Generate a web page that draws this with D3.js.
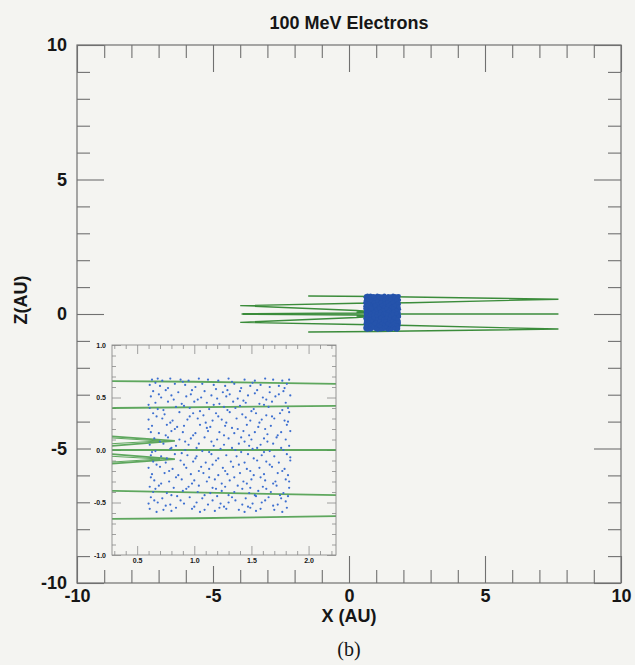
<!DOCTYPE html>
<html>
<head>
<meta charset="utf-8">
<script src="https://cdn.jsdelivr.net/npm/d3@7/dist/d3.min.js"></script>
<style>
  html, body { margin: 0; padding: 0; background: #f4f4f1; }
  svg { display: block; }
  text { font-family: 'Liberation Sans', Arial, Helvetica, sans-serif; fill: #161616; }
</style>
</head>
<body>
<svg id="chart" width="635" height="665"></svg>
<script>
const title = '100 MeV Electrons';
const xLabel = 'X (AU)';
const zLabel = 'Z(AU)';
const caption = '(b)';

const mainMajorTicks = [-10, -5, 0, 5, 10];
const mainMinorTicks = [-9, -8, -7, -6, -4, -3, -2, -1, 1, 2, 3, 4, 6, 7, 8, 9];
const insetXLabels = [0.5, 1.0, 1.5, 2.0];
const insetZLabels = [-1.0, -0.5, 0.0, 0.5, 1.0];

// field-line tracks, [x, z] in AU
const trackUpper = [
  [-1.5, 0.67], [1.0, 0.65], [2.24, 0.63], [7.7, 0.55], [2.24, 0.42], [0.3, 0.40],
  [-4.0, 0.31], [0.28, 0.13], [0.83, 0.086], [0.28, 0.04], [-3.9, 0.01]
];
const trackLower = [
  [-1.5, -0.67], [1.0, -0.65], [2.24, -0.63], [7.7, -0.56], [2.24, -0.43], [0.3, -0.39],
  [-4.0, -0.31], [0.28, -0.13], [0.83, -0.086], [0.28, -0.04], [-3.9, -0.01]
];
const trackMid = [[-3.95, 0.0], [7.7, 0.0]];
const loopUpper = [[0.28, 0.115], [0.70, 0.086], [0.28, 0.06]];
const loopLower = [[0.28, -0.115], [0.70, -0.086], [0.28, -0.06]];

// electron positions [x, z]
const electrons = [
  [0.63,0.67],[0.68,0.68],[0.72,0.66],[0.79,0.68],[0.88,0.67],[0.95,0.66],[1.04,0.68],[1.12,0.67],[1.21,0.66],[1.30,0.68],[1.44,0.67],[1.53,0.66],[1.62,0.68],[1.69,0.67],[1.77,0.66],[1.83,0.67],
  [0.61,0.62],[0.70,0.61],[0.83,0.63],[0.92,0.62],[1.01,0.60],[1.17,0.62],[1.27,0.61],[1.35,0.63],[1.49,0.61],[1.58,0.62],[1.74,0.61],[1.81,0.63],
  [0.64,0.56],[0.75,0.57],[0.86,0.55],[0.98,0.57],[1.09,0.56],[1.25,0.55],[1.29,0.57],[1.40,0.56],[1.55,0.57],[1.66,0.55],[1.78,0.56],
  [0.62,0.51],[0.71,0.50],[0.80,0.52],[0.93,0.51],[1.06,0.50],[1.15,0.52],[1.28,0.51],[1.38,0.49],[1.47,0.52],[1.60,0.50],[1.71,0.51],[1.84,0.52],
  [0.66,0.45],[0.77,0.46],[0.89,0.44],[1.00,0.46],[1.11,0.45],[1.22,0.44],[1.34,0.46],[1.45,0.45],[1.57,0.44],[1.68,0.46],[1.80,0.45],
  [0.61,0.40],[0.68,0.39],[0.84,0.41],[0.96,0.40],[1.13,0.39],[1.26,0.41],[1.36,0.40],[1.52,0.39],[1.65,0.41],[1.82,0.40],
  [0.64,0.35],[0.74,0.34],[0.87,0.36],[0.99,0.35],[1.08,0.33],[1.19,0.35],[1.31,0.36],[1.42,0.34],[1.54,0.35],[1.63,0.33],[1.75,0.35],[1.83,0.36],
  [0.60,0.29],[0.72,0.30],[0.81,0.28],[0.94,0.29],[1.03,0.30],[1.16,0.28],[1.24,0.29],[1.37,0.30],[1.49,0.28],[1.59,0.29],[1.70,0.30],[1.79,0.28],
  [0.63,0.23],[0.76,0.24],[0.85,0.22],[0.91,0.23],[1.05,0.24],[1.14,0.22],[1.27,0.23],[1.33,0.21],[1.46,0.24],[1.56,0.22],[1.67,0.23],[1.81,0.24],
  [0.62,0.17],[0.69,0.16],[0.80,0.18],[0.90,0.17],[1.01,0.16],[1.12,0.18],[1.22,0.17],[1.35,0.16],[1.43,0.18],[1.53,0.17],[1.64,0.15],[1.76,0.17],[1.84,0.18],
  [0.65,0.11],[0.77,0.12],[0.87,0.10],[0.97,0.11],[1.09,0.12],[1.20,0.10],[1.30,0.11],[1.41,0.12],[1.50,0.10],[1.61,0.11],[1.72,0.12],[1.80,0.10],
  [0.61,0.05],[0.73,0.06],[0.84,0.04],[0.95,0.05],[1.04,0.06],[1.17,0.04],[1.26,0.05],[1.39,0.06],[1.48,0.04],[1.58,0.05],[1.69,0.06],[1.83,0.04],
  [0.66,-0.01],[0.79,0.01],[0.92,0.00],[1.07,-0.01],[1.23,0.01],[1.36,0.00],[1.51,0.01],[1.66,-0.01],[1.78,0.00],
  [0.62,-0.05],[0.71,-0.06],[0.83,-0.04],[0.94,-0.05],[1.02,-0.06],[1.15,-0.04],[1.28,-0.05],[1.37,-0.06],[1.47,-0.04],[1.59,-0.05],[1.70,-0.06],[1.81,-0.04],
  [0.64,-0.11],[0.75,-0.12],[0.88,-0.10],[0.99,-0.11],[1.10,-0.12],[1.19,-0.10],[1.32,-0.11],[1.44,-0.12],[1.55,-0.10],[1.63,-0.11],[1.74,-0.12],[1.84,-0.10],
  [0.60,-0.17],[0.70,-0.16],[0.81,-0.18],[0.93,-0.17],[1.06,-0.16],[1.13,-0.18],[1.25,-0.17],[1.34,-0.16],[1.46,-0.18],[1.57,-0.17],[1.68,-0.16],[1.79,-0.18],
  [0.63,-0.23],[0.74,-0.22],[0.86,-0.24],[0.97,-0.23],[1.08,-0.22],[1.21,-0.24],[1.29,-0.23],[1.40,-0.22],[1.52,-0.24],[1.61,-0.23],[1.73,-0.22],[1.82,-0.24],
  [0.65,-0.29],[0.78,-0.30],[0.89,-0.28],[1.00,-0.29],[1.11,-0.30],[1.18,-0.28],[1.31,-0.29],[1.43,-0.30],[1.50,-0.28],[1.62,-0.29],[1.71,-0.30],[1.80,-0.28],
  [0.61,-0.35],[0.69,-0.34],[0.82,-0.36],[0.95,-0.35],[1.04,-0.34],[1.16,-0.36],[1.27,-0.35],[1.38,-0.34],[1.49,-0.36],[1.60,-0.35],[1.72,-0.34],[1.83,-0.36],
  [0.64,-0.40],[0.76,-0.41],[0.90,-0.39],[1.03,-0.40],[1.14,-0.41],[1.24,-0.39],[1.35,-0.40],[1.48,-0.41],[1.56,-0.39],[1.67,-0.40],[1.78,-0.41],
  [0.62,-0.45],[0.72,-0.46],[0.85,-0.44],[0.96,-0.45],[1.07,-0.46],[1.20,-0.44],[1.33,-0.45],[1.45,-0.46],[1.54,-0.44],[1.65,-0.45],[1.76,-0.46],[1.82,-0.44],
  [0.60,-0.51],[0.68,-0.50],[0.79,-0.52],[0.91,-0.51],[1.02,-0.50],[1.12,-0.52],[1.23,-0.51],[1.30,-0.50],[1.42,-0.52],[1.51,-0.51],[1.59,-0.50],[1.73,-0.52],
  [0.61,-0.56],[0.73,-0.57],[0.84,-0.55],[0.98,-0.56],[1.09,-0.57],[1.22,-0.55],[1.28,-0.56],[1.39,-0.57],[1.49,-0.55],[1.58,-0.56],[1.70,-0.57],[1.81,-0.55],
  [0.66,0.64],[0.77,0.59],[0.90,0.65],[1.07,0.63],[1.19,0.58],[1.33,0.65],[1.41,0.59],[1.51,0.64],[1.66,0.60],[1.79,0.59],
  [0.69,0.53],[0.82,0.48],[0.97,0.53],[1.03,0.48],[1.20,0.49],[1.31,0.53],[1.43,0.47],[1.53,0.54],[1.63,0.48],[1.74,0.53],
  [0.60,0.43],[0.73,0.38],[0.91,0.42],[1.05,0.37],[1.17,0.43],[1.29,0.38],[1.40,0.42],[1.50,0.37],[1.61,0.43],[1.77,0.38],
  [0.67,0.32],[0.79,0.26],[0.96,0.32],[1.10,0.26],[1.21,0.32],[1.28,0.26],[1.45,0.31],[1.57,0.26],[1.68,0.32],[1.82,0.27],
  [0.60,0.20],[0.75,0.14],[0.83,0.20],[0.99,0.14],[1.11,0.21],[1.26,0.14],[1.38,0.20],[1.48,0.14],[1.62,0.20],[1.73,0.14],
  [0.70,0.08],[0.80,0.02],[0.92,0.08],[1.02,0.02],[1.15,0.08],[1.33,0.02],[1.44,0.08],[1.55,0.02],[1.64,0.08],[1.76,0.02],
  [0.63,-0.02],[0.76,-0.08],[0.89,-0.03],[1.01,-0.08],[1.13,-0.02],[1.21,-0.08],[1.41,-0.02],[1.52,-0.08],[1.61,-0.02],[1.84,-0.07],
  [0.67,-0.14],[0.78,-0.20],[0.91,-0.14],[1.04,-0.20],[1.16,-0.14],[1.27,-0.20],[1.39,-0.14],[1.49,-0.20],[1.66,-0.14],[1.77,-0.20],
  [0.62,-0.26],[0.71,-0.32],[0.84,-0.26],[0.98,-0.32],[1.13,-0.26],[1.24,-0.32],[1.35,-0.26],[1.46,-0.32],[1.58,-0.26],[1.69,-0.32],[1.83,-0.30],
  [0.66,-0.37],[0.80,-0.43],[0.93,-0.37],[1.09,-0.43],[1.19,-0.37],[1.30,-0.43],[1.42,-0.37],[1.53,-0.43],[1.63,-0.37],[1.75,-0.43],
  [0.65,-0.48],[0.75,-0.53],[0.88,-0.48],[1.00,-0.54],[1.16,-0.48],[1.26,-0.54],[1.36,-0.48],[1.47,-0.54],[1.62,-0.48],[1.69,-0.53],[1.80,-0.49],
  [0.67,-0.59],[0.80,-0.58],[1.05,-0.59],[1.18,-0.58],[1.44,-0.59],[1.54,-0.58],[1.77,-0.59]
];

const tracks = [trackUpper, trackLower, trackMid, loopUpper, loopLower];

const svg = d3.select('#chart');
const frameColor = '#707070';
const lineGreen = '#3b8c3b';
const fmtTick = (d) => String(d); // plain hyphen minus like the original

// main panel
const x = d3.scaleLinear().domain([-10, 10]).range([77, 621]);
const z = d3.scaleLinear().domain([-10, 10]).range([583, 45]);

const main = svg.append('g').attr('class', 'main');

function drawTicks(g, axisFn, scale, values, size, format, pad) {
  const axis = axisFn(scale).tickValues(values).tickSizeInner(-size).tickSizeOuter(0).tickPadding(pad);
  axis.tickFormat(format || '');
  g.call(axis);
  g.select('.domain').remove();
  g.selectAll('line').attr('stroke', frameColor).attr('stroke-width', 1.1);
  return g;
}

const axes = [
  [d3.axisBottom, x, 583, 'y'],
  [d3.axisTop, x, 45, 'y'],
  [d3.axisLeft, z, 77, 'x'],
  [d3.axisRight, z, 621, 'x'],
];
axes.forEach(([fn, scale, pos, dir], i) => {
  const tr = dir === 'y' ? `translate(0,${pos})` : `translate(${pos},0)`;
  drawTicks(main.append('g').attr('transform', tr), fn, scale, mainMinorTicks, 13, null, 0);
  const labeled = i === 0 || i === 2;
  const g = drawTicks(main.append('g').attr('transform', tr), fn, scale, mainMajorTicks, 27,
    labeled ? fmtTick : null, i === 0 ? 6 : 10);
  g.selectAll('text')
    .attr('font-size', 18)
    .attr('font-weight', 'bold')
    .attr('fill', '#161616')
    .attr('font-family', "'Liberation Sans', Arial, sans-serif");
});

const line = d3.line().x((d) => x(d[0])).y((d) => z(d[1]));
main.append('g')
  .selectAll('path')
  .data(tracks)
  .join('path')
  .attr('d', line)
  .attr('fill', 'none')
  .attr('stroke', lineGreen)
  .attr('stroke-width', 1.4);

main.append('g')
  .selectAll('circle')
  .data(electrons)
  .join('circle')
  .attr('cx', (d) => x(d[0]))
  .attr('cy', (d) => z(d[1]))
  .attr('r', 2.1)
  .attr('fill', '#2553ab');

// frame
main.append('rect')
  .attr('x', 77).attr('y', 45).attr('width', 544).attr('height', 538)
  .attr('fill', 'none').attr('stroke', frameColor).attr('stroke-width', 1.2);

// inset panel
const ix = d3.scaleLinear().domain([0.28, 2.24]).range([112, 336]);
const iz = d3.scaleLinear().domain([-1, 1]).range([555, 345]);
const inset = svg.append('g').attr('class', 'inset');

inset.append('rect')
  .attr('x', 91).attr('y', 338).attr('width', 250).attr('height', 228)
  .attr('fill', '#f4f4f1');

svg.append('defs').append('clipPath').attr('id', 'insetClip')
  .append('rect').attr('x', 112).attr('y', 345).attr('width', 224).attr('height', 210);

const insetMinorX = d3.range(3, 23).map((v) => v / 10).filter((v) => Math.round(v * 10) % 5 !== 0);
const insetMinorZ = d3.range(-9, 10).map((v) => v / 10).filter((v) => Math.round(v * 10) % 5 !== 0);

const iaxes = [
  [d3.axisBottom, ix, 555, 'y', insetMinorX, insetXLabels],
  [d3.axisTop, ix, 345, 'y', insetMinorX, insetXLabels],
  [d3.axisLeft, iz, 112, 'x', insetMinorZ, insetZLabels],
  [d3.axisRight, iz, 336, 'x', insetMinorZ, insetZLabels],
];
iaxes.forEach(([fn, scale, pos, dir, minor, major], i) => {
  const tr = dir === 'y' ? `translate(0,${pos})` : `translate(${pos},0)`;
  drawTicks(inset.append('g').attr('transform', tr), fn, scale, minor, 4, null, 0)
    .selectAll('line').attr('stroke', '#8a8a8a').attr('stroke-width', 0.8);
  const labeled = i === 0 || i === 2;
  const g = drawTicks(inset.append('g').attr('transform', tr), fn, scale, major, 9,
    labeled ? (d) => d.toFixed(1) : null, i === 0 ? 3 : 6);
  g.selectAll('line').attr('stroke', '#8a8a8a').attr('stroke-width', 0.8);
  g.selectAll('text')
    .attr('font-size', 7)
    .attr('font-weight', 'bold')
    .attr('fill', '#555')
    .attr('font-family', "'Liberation Sans', Arial, sans-serif");
});

const iline = d3.line().x((d) => ix(d[0])).y((d) => iz(d[1]));
const insetPlot = inset.append('g').attr('clip-path', 'url(#insetClip)');
insetPlot.append('g')
  .selectAll('path')
  .data(tracks)
  .join('path')
  .attr('d', iline)
  .attr('fill', 'none')
  .attr('stroke', '#4e9e4e')
  .attr('stroke-width', (d, i) => (i > 2 ? 1 : 1.8))
  .attr('stroke-opacity', 0.9);

insetPlot.append('g')
  .selectAll('circle')
  .data(electrons)
  .join('circle')
  .attr('cx', (d) => ix(d[0]))
  .attr('cy', (d) => iz(d[1]))
  .attr('r', 1.1)
  .attr('fill', '#3d6fd0');

inset.append('rect')
  .attr('x', 112).attr('y', 345).attr('width', 224).attr('height', 210)
  .attr('fill', 'none').attr('stroke', '#8a8a8a').attr('stroke-width', 0.9);

// titles
svg.append('text')
  .attr('x', 349).attr('y', 29)
  .attr('text-anchor', 'middle')
  .attr('font-size', 18).attr('font-weight', 'bold')
  .text(title);

svg.append('text')
  .attr('x', 349).attr('y', 622)
  .attr('text-anchor', 'middle')
  .attr('font-size', 18).attr('font-weight', 'bold')
  .text(xLabel);

svg.append('text')
  .attr('transform', 'translate(27,300) rotate(-90)')
  .attr('text-anchor', 'middle')
  .attr('font-size', 18).attr('font-weight', 'bold')
  .text(zLabel);

svg.append('text')
  .attr('x', 349).attr('y', 656)
  .attr('text-anchor', 'middle')
  .attr('font-size', 20)
  .style('font-family', "'Liberation Serif', 'DejaVu Serif', serif")
  .text(caption);
</script>
</body>
</html>
